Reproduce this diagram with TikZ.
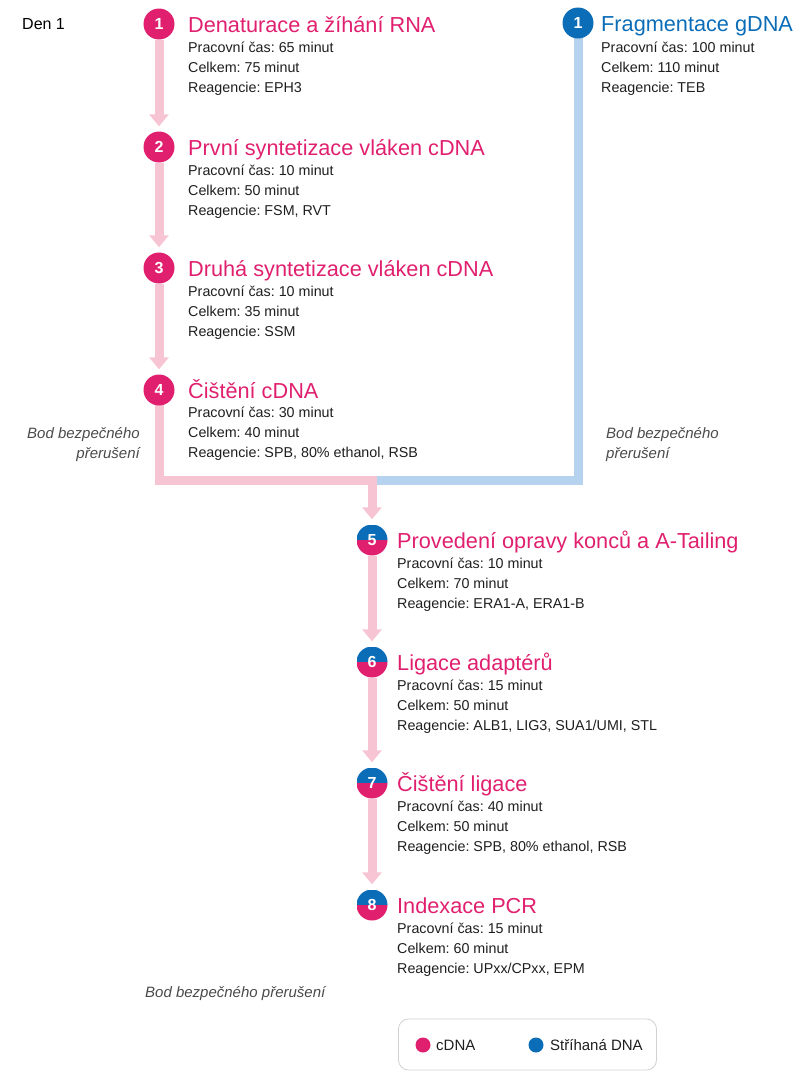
\documentclass[tikz,border=0pt]{standalone}
\usepackage{fontspec}
\setmainfont{Liberation Sans}
\usetikzlibrary{arrows.meta,backgrounds}
\definecolor{pk}{HTML}{E0206F}
\definecolor{bl}{HTML}{0B6DB7}
\definecolor{lpk}{HTML}{F7C4D3}
\definecolor{lbl}{HTML}{B5D3EE}
\definecolor{gtx}{HTML}{4A4A4A}
\definecolor{dtx}{HTML}{1E1E1E}
\begin{document}
\frenchspacing
\begin{tikzpicture}[x=1pt,y=-1pt,
  pline/.style={draw=lpk,line width=9pt},
  bline/.style={draw=lbl,line width=9pt},
  arr/.style={-{Triangle[width=19pt,length=12pt]},shorten >=5pt},
  numc/.style={circle,minimum size=31pt,inner sep=0pt,text=white,font=\bfseries\fontsize{16}{16}\selectfont},
  pc/.style={numc,fill=pk},
  bc/.style={numc,fill=bl},
  hc/.style={numc,path picture={
     \fill[bl] (path picture bounding box.north west) rectangle (path picture bounding box.east);
     \fill[pk] (path picture bounding box.west) rectangle (path picture bounding box.south east);}},
  ttl/.style={anchor=base west,inner sep=0pt,font=\fontsize{21.7}{22}\selectfont},
  det/.style={anchor=north west,inner sep=0pt,align=left,text=dtx,font=\fontsize{14.3}{20}\selectfont},
  note/.style={inner sep=0pt,text=gtx,font=\itshape\fontsize{15}{20}\selectfont},
  legt/.style={anchor=west,inner sep=0pt,font=\fontsize{15}{15}\selectfont,text=dtx},
  legd/.style={circle,minimum size=15pt,inner sep=0pt},
]
\useasboundingbox (0,0) rectangle (798,1072);

\node[anchor=base west,inner sep=0pt,font=\fontsize{16}{16}\selectfont] (den) at (22,29) {Den 1};

% left column
\node[pc] (c1) at (159,24) {1};
\node[pc] (c2) at (159,147) {2};
\node[pc] (c3) at (159,268) {3};
\node[pc] (c4) at (159,390) {4};
% right
\node[bc] (b1) at (578,23) {1};
% merged
\node[hc] (c5) at (372,540) {5};
\node[hc] (c6) at (372,662) {6};
\node[hc] (c7) at (372,783) {7};
\node[hc] (c8) at (372,905) {8};

\coordinate (jm) at (372,480);

% titles and details
\node[ttl,text=pk] (t1) at (188,32) {Denaturace a žíhání RNA};
\node[det] (d1) at (188,41.5) {Pracovní čas: 65 minut\\Celkem: 75 minut\\Reagencie: EPH3};
\node[ttl,text=pk] (t2) at (188,155) {První syntetizace vláken cDNA};
\node[det] (d2) at (188,164.5) {Pracovní čas: 10 minut\\Celkem: 50 minut\\Reagencie: FSM, RVT};
\node[ttl,text=pk] (t3) at (188,276) {Druhá syntetizace vláken cDNA};
\node[det] (d3) at (188,285.5) {Pracovní čas: 10 minut\\Celkem: 35 minut\\Reagencie: SSM};
\node[ttl,text=pk] (t4) at (188,398) {Čištění cDNA};
\node[det] (d4) at (188,407) {Pracovní čas: 30 minut\\Celkem: 40 minut\\Reagencie: SPB, 80\% ethanol, RSB};
\node[ttl,text=bl] (tb) at (601,31) {Fragmentace gDNA};
\node[det] (db) at (601,41.5) {Pracovní čas: 100 minut\\Celkem: 110 minut\\Reagencie: TEB};
\node[ttl,text=pk] (t5) at (397,548) {Provedení opravy konců a A-Tailing};
\node[det] (d5) at (397,557.5) {Pracovní čas: 10 minut\\Celkem: 70 minut\\Reagencie: ERA1-A, ERA1-B};
\node[ttl,text=pk] (t6) at (397,670) {Ligace adaptérů};
\node[det] (d6) at (397,679.5) {Pracovní čas: 15 minut\\Celkem: 50 minut\\Reagencie: ALB1, LIG3, SUA1/UMI, STL};
\node[ttl,text=pk] (t7) at (397,791) {Čištění ligace};
\node[det] (d7) at (397,800.5) {Pracovní čas: 40 minut\\Celkem: 50 minut\\Reagencie: SPB, 80\% ethanol, RSB};
\node[ttl,text=pk] (t8) at (397,913) {Indexace PCR};
\node[det] (d8) at (397,922.5) {Pracovní čas: 15 minut\\Celkem: 60 minut\\Reagencie: UPxx/CPxx, EPM};

% notes
\node[note,anchor=north east,align=right] (n1) at (140,427) {Bod bezpečného\\přerušení};
\node[note,anchor=north west,align=left] (n2) at (606,427) {Bod bezpečného\\přerušení};
\node[note,anchor=base west] (n3) at (145,997) {Bod bezpečného přerušení};

% legend
\node[draw=black!18,line width=0.8pt,rounded corners=10pt,minimum width=258pt,minimum height=51pt] (leg) at (527.5,1044.5) {};
\node[legd,fill=pk] (lp) at (423,1045) {};
\node[legt] (lpt) at (436,1045) {cDNA};
\node[legd,fill=bl] (lb) at (536,1045) {};
\node[legt] (lbt) at (550,1045) {Stříhaná DNA};

\begin{scope}[on background layer]
\draw[pline,arr] (c1) -- (c2);
\draw[pline,arr] (c2) -- (c3);
\draw[pline,arr] (c3) -- (c4);
\draw[bline] (b1.center) |- (jm);
\draw[pline] (c4.center) |- (jm);
\draw[pline,arr] ([yshift=4.5pt]jm) -- (c5);
\draw[pline,arr] (c5) -- (c6);
\draw[pline,arr] (c6) -- (c7);
\draw[pline,arr] (c7) -- (c8);
\end{scope}
\end{tikzpicture}
\end{document}
